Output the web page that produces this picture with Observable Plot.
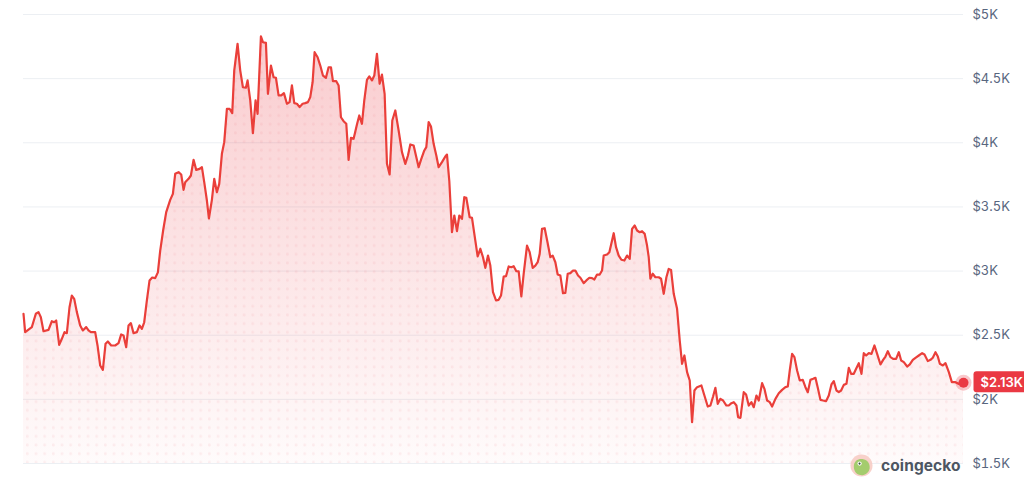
<!DOCTYPE html>
<html>
<head>
<meta charset="utf-8">
<script src="https://cdn.jsdelivr.net/npm/d3@7"></script>
<script src="https://cdn.jsdelivr.net/npm/@observablehq/plot@0.6"></script>
<style>
  html, body { margin: 0; padding: 0; background: #fff; }
  #wrap { position: relative; width: 1024px; height: 479px; overflow: hidden; }
  #chart svg { display: block; }
  #brand { position: absolute; left: 850px; top: 454px; display: flex; align-items: center; gap: 8px;
           font-family: Inter, "Noto Sans", sans-serif; font-weight: 700; font-size: 15.5px; color: #4d5562; letter-spacing: 0.1px; }
</style>
</head>
<body>
<div id="wrap">
  <div id="chart"></div>
  <div id="brand">
    <svg width="23" height="23" viewBox="0 0 24 24">
      <circle cx="12" cy="12" r="11.5" fill="#f7c9c1" opacity="0.85"/>
      <path d="M4 13 C4 7 9 4.5 14 5.5 C19 6.5 21 11 20.5 15 C19.5 20 15 22.5 11 22 C7 21.5 4 18 4 13 Z" fill="#9acb63" opacity="0.9"/>
      <circle cx="10" cy="10" r="2.2" fill="#fff"/>
      <circle cx="10" cy="10" r="1.1" fill="#3a4a3a"/>
    </svg>
    <span>coingecko</span>
  </div>
</div>
<script>
// ---- data ----
const startDate = Date.UTC(2025, 5, 20);
const days = [0.1,0.6,2.6,3.8,4.6,5.3,6.1,7.6,8.6,9.3,9.9,10.8,11.6,12.4,13.1,13.9,14.6,15.3,16.1,17.1,17.9,18.9,19.6,20.3,21.6,22.3,23.1,23.9,24.7,25.4,26.4,27.6,28.6,29.4,30.1,30.9,31.6,32.3,33.1,34.1,34.9,35.6,36.3,37.1,37.9,
38.7,39.6,40.4,41.1,42,42.9,
44.1,44.9,45.6,46.6,47.4,48.1,48.6,49.6,50.3,51.1,51.9,52.9,53.6,54.3,55.1,55.7,56.6,57.3,58.1,58.8,59.6,60.3,61.1,61.9,62.7,63.3,64.3,65.1,65.9,66.8,67.3,68.1,68.9,69.7,70.3,71.3,71.9,72.8,73.4,74.3,75.1,75.8,76.6,77.4,78.2,79.1,79.9,80.6,81.3,82.1,82.9,83.8,84.6,85.4,86.1,86.8,87.4,88.3,89.1,89.9,90.8,91.6,92.3,92.9,93.9,94.6,95.3,96.1,96.9,97.6,98.3,99.1,100.1,100.8,101.6,102.3,103.1,103.8,104.6,105.3,106.1,106.9,107.6,108.4,109.1,109.9,110.7,111.6,112.6,113.6,114.6,115.4,116.1,117.1,118.6,119.3,120.3,120.9,121.6,122.3,123.1,123.9,124.6,125.6,126.6,127.1,
127.8,128.6,129.3,130.1,130.8,131.6,132.3,132.9,133.9,134.6,135.6,136.3,137.1,137.9,138.6,139.4,140.1,140.9,141.8,142.6,143.3,144.1,144.8,145.6,146.4,147.1,147.9,148.6,149.4,150.1,151.1,151.9,152.8,153.6,154.3,154.9,155.6,156.4,157.3,158.1,158.8,159.6,160.3,161.1,161.9,162.6,163.3,164.1,164.9,165.6,166.4,167.1,168.1,168.9,169.8,170.6,171.3,172.1,172.9,173.6,174.1,175.1,175.8,177.1,177.8,178.6,179.4,180.3,181.1,181.9,182.6,183.4,184.1,184.9,185.6,186.4,187.1,187.6,188.1,188.8,189.6,190.6,191.3,192.1,192.9,193.6,194.3,195.1,196.1,196.9,197.6,198.3,199.1,199.9,200.6,201.3,202.1,203.4,204.3,205.3,206.1,206.9,207.6,208.3,209.1,209.9,210.9,211.6,212.4,213.1,213.9,214.4,215.1,216.1,216.8,217.6,218.4,219.1,219.9,220.6,221.6,222.3,223.1,223.9,224.6,225.6,226.6,227.6,228.6,229.3,229.9,230.6,231.3,232.1,232.9,233.8,234.6,235.3,236.1,236.9,237.6,238.3,239.1,239.9,240.8,241.6,242.4,243.1,243.9,244.6,245.3,246.1,246.9,247.6,248.3,249.1,249.8,250.6,251.4,252.1,252.8,253.6,254.4,255.3,256.1,257.1,257.9,258.6,259.3,260.1,260.9,261.8,262.6,263.3,264.1,265.1,265.9,266.8,267.6,268.6,269.6,270.3,271.3,272.1,272.8,273.6,274.3,274.9,275.8,276.6,277.6,278.5,279.6,280.5,282];
const prices = [2667,2524,2563,2667,2680,2640,2531,2542,2609,2601,2615,2425,2472,2524,2516,2718,2809,2784,2680,2576,2537,2563,2537,2524,2524,2420,2264,2230,2433,2451,2420,2420,2438,2506,2498,2407,2576,2594,2516,2524,2576,2550,2601,2771,2927,
2950,2945,2990,3160,3320,3460,
3555,3602,3758,3771,3753,3633,3693,3719,3745,3867,3789,3797,3810,3693,3550,3410,3555,3719,3615,3680,3914,4005,4265,4265,4231,4563,4772,4563,4433,4429,4486,4330,4075,4330,4226,4829,4784,4779,4382,4602,4511,4507,4369,4369,4387,4304,4317,4447,4309,4304,4278,4304,4309,4317,4356,4472,4706,4667,4602,4524,4507,4589,4589,4480,4480,4447,4199,4168,4148,3867,4039,4031,4143,4213,4148,4330,4491,4517,4486,4524,4694,4460,4532,4382,3836,3753,4174,4252,4096,3927,3836,3901,3987,3979,3810,3867,3940,3966,4161,4127,3992,3901,3810,3849,3893,3908,
3700,3303,3433,3311,3433,3407,3576,3571,3420,3415,3238,3114,3174,3108,3025,3121,3043,2835,2771,2776,2809,2957,2960,3036,3030,3038,2999,2997,2802,2979,3199,3147,3025,3043,3069,3134,3329,3334,3217,3108,3121,3069,2973,2965,2827,2830,2979,2984,3004,3004,2965,2948,2906,2927,2948,2945,2934,2973,2973,3004,3121,3129,3147,3295,3186,3121,3088,3082,3121,3095,3329,3355,3316,3303,3311,3290,3199,3108,2940,2979,2952,2952,2940,2823,2952,3017,3009,2823,2706,2459,2277,2342,2212,2147,1822,2069,2095,2108,2030,1944,1952,2022,2090,1965,2004,1991,1952,1952,1970,1978,1952,1861,1856,2056,2038,1952,1978,1939,2030,1991,2126,2082,1991,1978,1944,2004,2048,2074,2095,2100,2225,2355,2329,2225,2147,2152,2095,2056,2152,2160,2168,2090,1996,1991,1986,2030,2116,2142,2069,2056,2069,2113,2121,2246,2199,2199,2238,2282,2199,2360,2342,2360,2355,2420,2355,2272,2308,2334,2375,2329,2316,2316,2368,2303,2290,2256,2272,2308,2324,2342,2360,2350,2298,2308,2324,2368,2334,2277,2264,2282,2212,2134,2134,2121,2130];
const yTicks = [1500, 2000, 2500, 3000, 3500, 4000, 4500, 5000];
const yTickLabels = ["$1.5K", "$2K", "$2.5K", "$3K", "$3.5K", "$4K", "$4.5K", "$5K"];
const yDomain = [1500, 5000];

const data = days.map((d, i) => ({date: new Date(startDate + d * 864e5), price: prices[i]}));
const last = data[data.length - 1];
const lineColor = "#ea3f3a";

const defsMark = () => {
  const defs = d3.create("svg:defs");
  const g = defs.append("linearGradient").attr("id", "areaGrad").attr("x1", 0).attr("y1", 0).attr("x2", 0).attr("y2", 1);
  g.append("stop").attr("offset", "0%").attr("stop-color", "#ea3943").attr("stop-opacity", 0.26);
  g.append("stop").attr("offset", "100%").attr("stop-color", "#ea3943").attr("stop-opacity", 0.02);
  const p = defs.append("pattern").attr("id", "dots").attr("patternUnits", "userSpaceOnUse")
    .attr("width", 8.67).attr("height", 8.67);
  p.append("circle").attr("cx", 1.3).attr("cy", 2.8).attr("r", 1.5).attr("fill", "#ea3943").attr("fill-opacity", 0.07);
  return defs.node();
};

const chart = Plot.plot({
  width: 1024,
  height: 479,
  marginLeft: 23,
  marginRight: 61,
  marginTop: 14,
  marginBottom: 16,
  style: {background: "#fff", fontFamily: "Inter, 'Noto Sans', sans-serif"},
  x: {type: "time", axis: null},
  y: {domain: yDomain, label: null},
  marks: [
    defsMark,
    Plot.gridY(yTicks, {stroke: "#eceff3", strokeOpacity: 1, strokeWidth: 1}),
    Plot.areaY(data, {x: "date", y1: yDomain[0], y2: "price", fill: "url(#areaGrad)"}),
    Plot.areaY(data, {x: "date", y1: yDomain[0], y2: "price", fill: "url(#dots)"}),
    Plot.lineY(data, {x: "date", y: "price", stroke: lineColor, strokeWidth: 2.2, curve: "linear"}),
    Plot.axisY(yTicks, {anchor: "right", label: null, tickSize: 0, tickPadding: 9, fontSize: 13, fill: "#58667e",
      tickFormat: d => yTickLabels[yTicks.indexOf(d)]}),
    Plot.dot([last], {x: "date", y: "price", r: 8, fill: "#ea3943", fillOpacity: 0.28, stroke: null}),
    Plot.dot([last], {x: "date", y: "price", r: 5, fill: "#ea3943", stroke: null}),
    Plot.text([last], {x: "date", y: "price", text: d => `$${(d.price / 1000).toFixed(2)}K`, dx: 17, textAnchor: "start",
      fill: "#fff", fontSize: 13, fontWeight: 600, className: "badge-text"})
  ]
});
document.getElementById("chart").appendChild(chart);

// badge background behind the last-value label
const badge = chart.querySelector(".badge-text");
if (badge) {
  const t = badge.querySelector("text") || badge;
  const bb = t.getBBox();
  const grp = t.parentNode;
  const rect = document.createElementNS("http://www.w3.org/2000/svg", "rect");
  const tr = t.getAttribute("transform");
  rect.setAttribute("x", bb.x - 7);
  rect.setAttribute("y", bb.y - 2.5);
  rect.setAttribute("width", bb.width + 13);
  rect.setAttribute("height", bb.height + 5);
  rect.setAttribute("rx", 3);
  rect.setAttribute("fill", "#ea3943");
  if (tr) rect.setAttribute("transform", tr);
  grp.insertBefore(rect, t);
}
</script>
</body>
</html>
